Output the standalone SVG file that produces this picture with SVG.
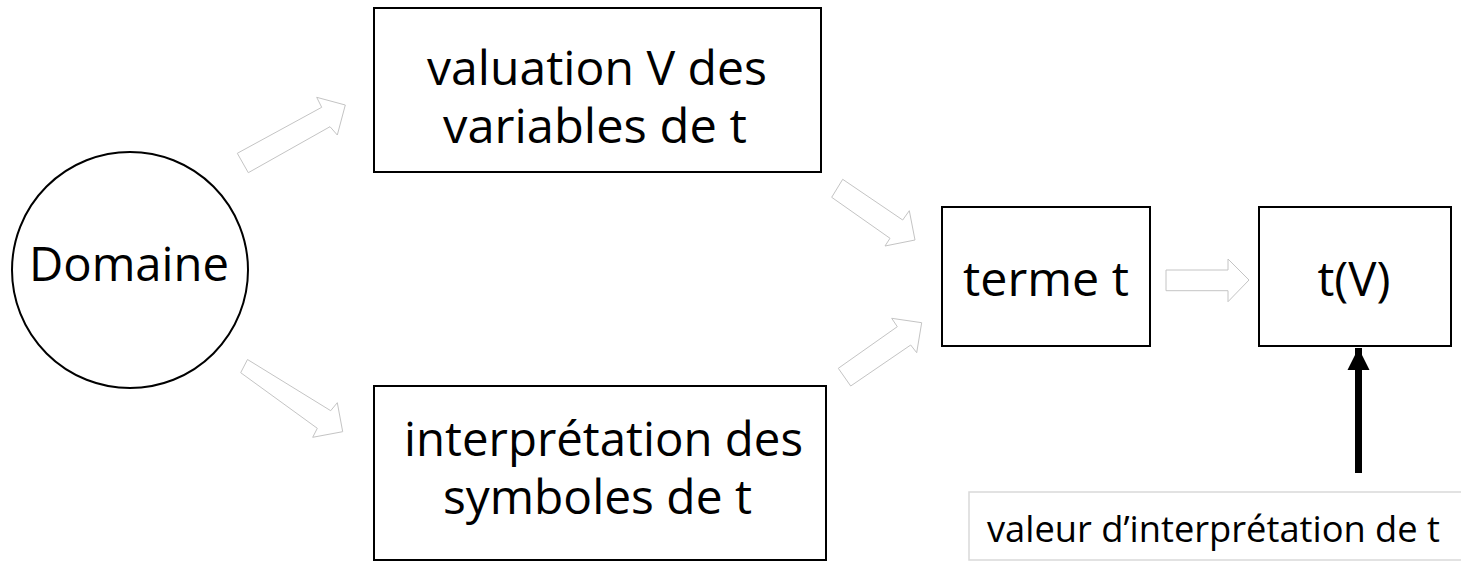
<svg xmlns="http://www.w3.org/2000/svg" width="1461" height="561" viewBox="0 0 1461 561">
  <style>
    .box { fill: #ffffff; stroke: #000000; stroke-width: 2; }
    text { font-variant-ligatures: none; }
    .lbl { font-family: "Open Sans", "Noto Sans", "Liberation Sans", sans-serif; font-size: 47px; fill: #000000; text-anchor: middle; }
    .small { font-family: "Open Sans", "Noto Sans", "Liberation Sans", sans-serif; font-size: 36px; fill: #000000; }
    .hollow { fill: #ffffff; stroke: #c4c4c4; stroke-width: 1; stroke-linejoin: miter; }
  </style>
  <defs>
    <marker id="head" viewBox="0 0 10 10" refX="10" refY="5" markerWidth="3.2" markerHeight="3.2" markerUnits="strokeWidth" orient="auto">
      <path d="M0,0 L10,5 L0,10 z" fill="#000000"/>
    </marker>
  </defs>
  <rect width="1461" height="561" fill="#ffffff"/>

  <g id="connectors">
    <!-- block arrows between the nodes -->
    <polygon class="hollow" points="237.3,153.3 248.3,172.7 330,126.7 337.3,135 345.3,105 316.7,97.3 321.7,107.3"/>
    <polygon class="hollow" points="247.5,359.5 240.7,372.7 317.3,428.3 312.7,437.3 342.7,431.7 337.3,402.7 330.7,410.7"/>
    <polygon class="hollow" points="842.7,179.3 831.7,197.3 890,238.3 885,246 915,240 909.3,210.7 902.7,220"/>
    <polygon class="hollow" points="850.7,386 838.3,368.3 897.3,326.7 891.7,318.3 921.7,322.7 916.7,352.7 910.7,345"/>
    <polygon class="hollow" points="1166,270 1228,270 1228,259 1249,280 1228,301.7 1228,290.7 1166,290.7"/>
    <!-- solid arrow from the caption up to t(V) -->
    <line x1="1358.5" y1="473" x2="1358.5" y2="348" stroke="#000000" stroke-width="7" marker-end="url(#head)"/>
  </g>

  <g id="domaine">
    <circle cx="130" cy="270" r="118" class="box"/>
    <text class="lbl" x="129" y="281" textLength="200" lengthAdjust="spacingAndGlyphs">Domaine</text>
  </g>

  <g id="valuation">
    <rect x="374" y="8" width="447" height="164" class="box"/>
    <text class="lbl" x="597" y="85" textLength="340" lengthAdjust="spacingAndGlyphs">valuation V des</text>
    <text class="lbl" x="595" y="143" textLength="304" lengthAdjust="spacingAndGlyphs">variables de t</text>
  </g>

  <g id="interpretation">
    <rect x="374" y="386" width="452" height="174" class="box"/>
    <text class="lbl" x="603.5" y="456" textLength="399" lengthAdjust="spacingAndGlyphs">interprétation des</text>
    <text class="lbl" x="597.5" y="514" textLength="309" lengthAdjust="spacingAndGlyphs">symboles de t</text>
  </g>

  <g id="terme">
    <rect x="942" y="207" width="208" height="139" class="box"/>
    <text class="lbl" x="1046" y="296" textLength="166" lengthAdjust="spacingAndGlyphs">terme t</text>
  </g>

  <g id="tv">
    <rect x="1259" y="207" width="192" height="139" class="box"/>
    <text class="lbl" x="1354" y="296" textLength="73" lengthAdjust="spacingAndGlyphs">t(V)</text>
  </g>

  <g id="valeur">
    <rect x="969" y="492" width="500" height="68" fill="#ffffff" stroke="#d9d9d9" stroke-width="1.5"/>
    <text class="small" x="987" y="542" textLength="453" lengthAdjust="spacingAndGlyphs">valeur d’interprétation de t</text>
  </g>
</svg>
